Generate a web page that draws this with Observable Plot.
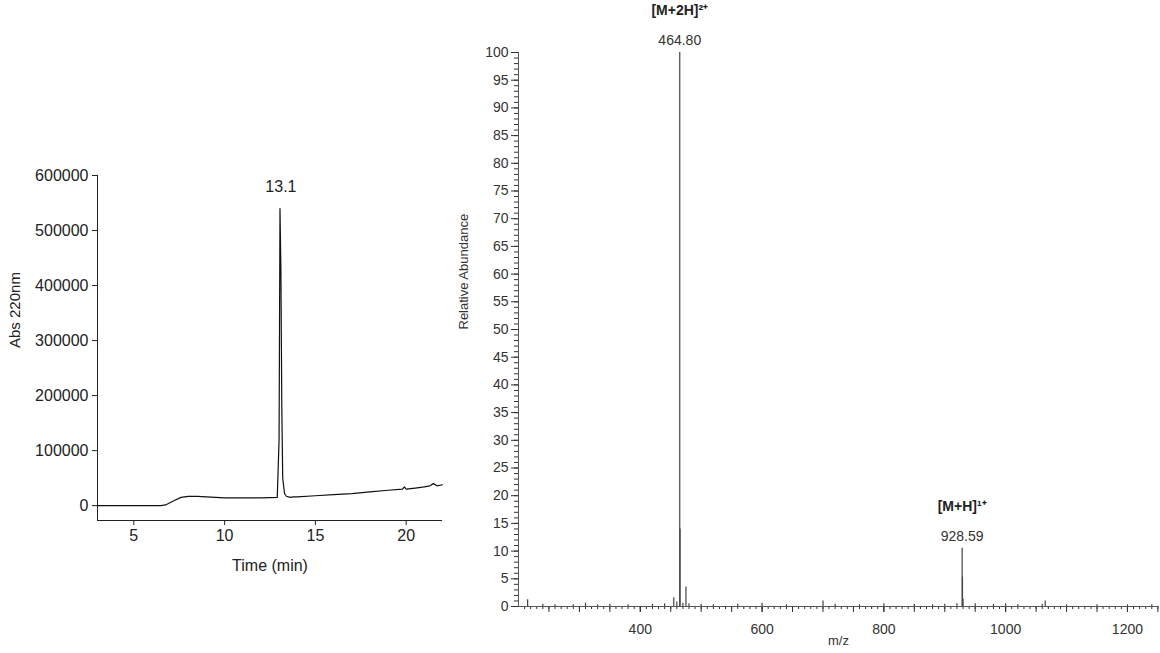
<!DOCTYPE html>
<html><head><meta charset="utf-8">
<script src="https://cdn.jsdelivr.net/npm/d3@7"></script>
<script src="https://cdn.jsdelivr.net/npm/@observablehq/plot@0.6"></script>
<style>
body{margin:0;background:#fff;font-family:Arial,"Liberation Sans",sans-serif;}
#wrap{position:relative;width:1160px;height:653px;}
#lc{position:absolute;left:0;top:160px;}
#ms{position:absolute;left:450px;top:0;}
</style></head><body>
<div id="wrap"><div id="lc"></div><div id="ms"></div></div>
<script>
// HPLC trace
const time = [3,4,5,6,6.5,6.8,7.2,7.6,8,8.5,9,10,11,12,12.9,13.0,13.05,13.1,13.15,13.2,13.3,13.4,13.6,13.8,14,15,16,17,18,19,19.8,19.9,20.0,20.5,21,21.3,21.5,21.7,22];
const absorb = [0,0,0,0,0,2000,9000,15000,17000,17000,16000,14000,14000,14000,15000,120000,540000,430000,180000,50000,22000,17000,15000,16000,16000,18000,20000,22000,25000,28000,30000,34000,30000,32000,34000,36000,40000,36000,38000];
const hplc = time.map((t, i) => ({t, a: absorb[i]}));

// mass spectrum peaks
const mz = [215,240,260,290,310,330,350,380,420,440,455,460,464.8,465.3,470,475,480,500,520,560,600,640,700,720,760,800,850,880,900,920,928.59,929.1,930,950,980,1000,1020,1060,1065,1100,1150,1200,1240];
const rel = [1.2,0.4,0.3,0.3,0.6,0.3,0.4,0.3,0.4,0.5,1.6,0.8,100,14,0.6,3.5,0.5,0.4,0.3,0.4,0.6,0.3,1.0,0.4,0.3,0.5,0.4,0.3,0.4,0.5,10.5,5.3,1.3,0.5,0.4,0.5,0.3,0.4,1.0,0.3,0.3,0.3,0.3];
const spec = mz.map((m, i) => ({m, r: rel[i]}));
const peakLabels = [{m: 464.80, r: 100, l: "464.80", ion: "[M+2H]²⁺"}, {m: 928.59, r: 10.5, l: "928.59", ion: "[M+H]¹⁺"}];

const lc = Plot.plot({
  width: 460, height: 440,
  marginLeft: 97, marginRight: 18, marginTop: 15, marginBottom: 80,
  style: {fontFamily: "Arial, Liberation Sans, sans-serif", fontSize: "14px", color: "#222"},
  x: {domain: [3, 22], label: null},
  y: {domain: [-27000, 600000], label: null},
  marks: [
    Plot.axisX({ticks: [5,10,15,20], tickSize: 5, fontSize: 16}),
    Plot.axisY({ticks: d3.range(0, 600001, 100000), tickSize: 5, fontSize: 16, tickFormat: d => String(d)}),
    Plot.ruleX([3]), Plot.ruleY([-27000]),
    Plot.line(hplc, {x: "t", y: "a", stroke: "#111", strokeWidth: 1.2}),
    Plot.text(["13.1"], {x: 13.1, y: 565000, fontSize: 16, dy: -8, textAnchor: "middle"}),
    Plot.text(["Time (min)"], {frameAnchor: "bottom", dy: 50, fontSize: 16}),
    Plot.text(["Abs 220nm"], {frameAnchor: "left", dx: -82, rotate: -90, fontSize: 15})
  ]
});
document.getElementById("lc").append(lc);

const ms = Plot.plot({
  width: 710, height: 653,
  marginLeft: 68, marginRight: 2, marginTop: 52, marginBottom: 47,
  style: {fontFamily: "Arial, Liberation Sans, sans-serif", fontSize: "13px", color: "#333"},
  x: {domain: [200, 1251], label: null},
  y: {domain: [0, 100], label: null},
  marks: [
    Plot.axisY({ticks: d3.range(0, 101, 1), tickSize: 4, tickFormat: () => ""}),
    Plot.axisY({ticks: d3.range(0, 101, 5), tickSize: 7, fontSize: 14}),
    Plot.axisX({ticks: d3.range(210, 1251, 10), tickSize: 3, tickFormat: () => ""}),
    Plot.axisX({ticks: d3.range(250, 1251, 50), tickSize: 6, tickFormat: () => ""}),
    Plot.axisX({ticks: [400, 600, 800, 1000, 1200], tickSize: 6, fontSize: 14, tickPadding: 12, tickFormat: d => String(d)}),
    Plot.ruleX([200], {stroke: "#555"}), Plot.ruleY([0], {stroke: "#555"}),
    Plot.ruleX(spec, {x: "m", y1: 0, y2: "r", stroke: "#444", strokeWidth: 1.2}),
    Plot.text(peakLabels, {x: "m", y: "r", text: "l", dy: -12, fontSize: 14}),
    Plot.text(peakLabels, {x: "m", y: "r", text: "ion", fontSize: 14, fontWeight: "bold", dy: -42, fill: "#222"}),
    Plot.text(["m/z"], {frameAnchor: "bottom", dy: 38, fontSize: 13}),
    Plot.text(["Relative Abundance"], {frameAnchor: "left", dx: -55, rotate: -90, fontSize: 13})
  ]
});
document.getElementById("ms").append(ms);
</script></body></html>
